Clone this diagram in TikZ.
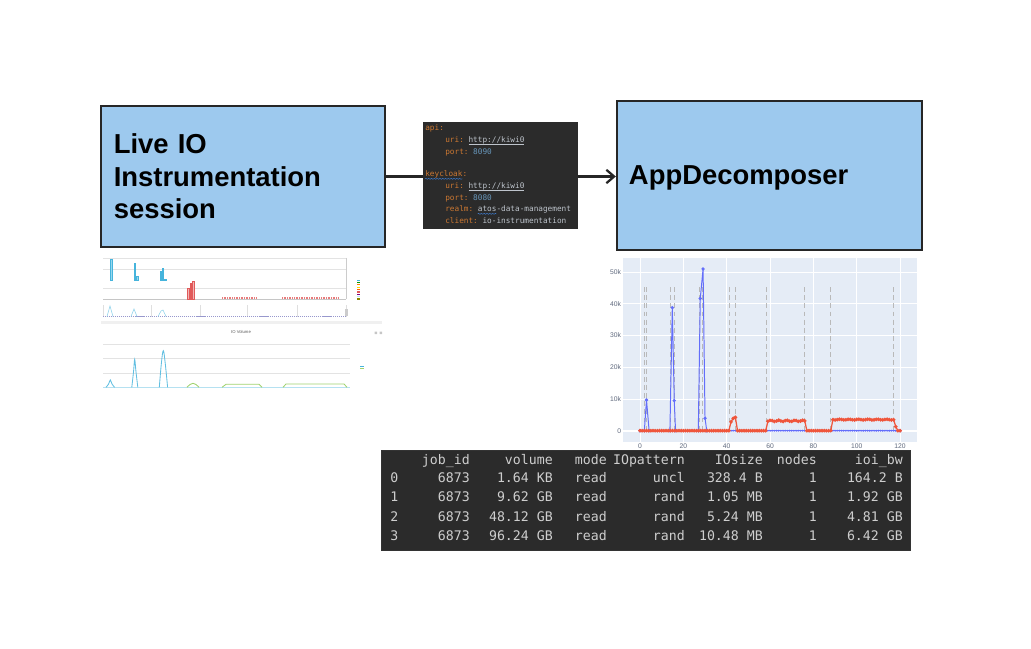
\documentclass[tikz,border=0pt]{standalone}
\usepackage{fontspec}
\setmainfont{Liberation Sans}
\setmonofont{DejaVu Sans Mono}
\usepackage{tikz}
\usetikzlibrary{positioning,arrows.meta,decorations.pathmorphing}
\definecolor{boxfill}{RGB}{157,201,238}
\definecolor{boxline}{RGB}{38,38,38}
\definecolor{codebg}{RGB}{43,43,43}
\definecolor{codekey}{RGB}{204,120,50}
\definecolor{codenum}{RGB}{104,151,187}
\definecolor{codetxt}{RGB}{190,196,204}
\definecolor{codewave}{RGB}{60,120,200}
\definecolor{tablebg}{RGB}{43,43,43}
\definecolor{tabtxt}{RGB}{206,206,206}
\definecolor{plotbg}{RGB}{229,236,246}
\definecolor{plotblue}{RGB}{99,110,250}
\definecolor{plotred}{RGB}{239,85,59}
\definecolor{axtxt}{RGB}{95,105,125}
\definecolor{shotcyan}{RGB}{70,180,220}
\definecolor{shotgreen}{RGB}{160,210,110}
\definecolor{shotred}{RGB}{225,90,90}
\newcommand\lnk[1]{\setbox0\hbox{#1}\rlap{\rule[-0.9pt]{\wd0}{0.25pt}}\box0}

\begin{document}
\begin{tikzpicture}[x=0.025cm, y=-0.025cm,
  block/.style={rectangle, draw=boxline, fill=boxfill, line width=1.6pt,
                font=\fontsize{19.5}{23}\bfseries\selectfont, align=left,
                inner xsep=0.32cm, inner ysep=0pt},
  flow/.style={-{Straight Barb[length=5.5pt,width=9.5pt]}, line width=1.6pt, boxline},
  code/.style={anchor=base west, inner sep=0pt, font=\fontsize{5.5}{6}\ttfamily\selectfont, text=codetxt},
  wave/.style={codewave, line width=0.35pt, decorate,
               decoration={snake, amplitude=0.35pt, segment length=2pt}},
  cell/.style={anchor=base east, inner sep=0pt, font=\fontsize{9.4}{11}\ttfamily\selectfont, text=tabtxt},
  tick/.style={inner sep=0pt, font=\fontsize{4.8}{5}\selectfont, text=axtxt},
  gridline/.style={white, line width=0.6pt},
  phase/.style={gray!55, line width=0.6pt, dash pattern=on 3.5pt off 2.3pt},
  shotgrid/.style={gray!22, line width=0.3pt},
  barblue/.style={fill=shotcyan!55, draw=shotcyan, line width=0.3pt},
  barred/.style={fill=shotred!45, draw=shotred, line width=0.3pt},
]
\useasboundingbox (0,0) rectangle (1031,649);

% boxes and the link between them
\node[block, text width=6.46cm, minimum height=3.525cm] (live) at (243,176.5)
    {Live IO\\Instrumentation\\session};
\node[block, text width=7.025cm, inner xsep=0.3cm, minimum height=3.725cm, text depth=0pt]
    (decomp) at (769.5,175.5) {AppDecomposer};
\draw[flow] (live.east) -- (live.east -| decomp.west);

% config snippet
\node[fill=codebg, minimum width=3.875cm, minimum height=2.675cm, inner sep=0pt] (conf) at (500.5,175.5) {};
\node[code] (apikey) at (425,131) {\textcolor{codekey}{api:}};
\node[code] (apiuri) at (445,143) {\textcolor{codekey}{uri:} \lnk{http://kiwi0}};
\node[code] (apiport) at (445,155) {\textcolor{codekey}{port:} \textcolor{codenum}{8090}};
\node[code] (kc) at (425,177) {\textcolor{codekey}{keycloak:}};
\node[code] (kcuri) at (445,189) {\textcolor{codekey}{uri:} \lnk{http://kiwi0}};
\node[code] (kcport) at (445,201) {\textcolor{codekey}{port:} \textcolor{codenum}{8080}};
\node[code] (kcrealm) at (445,212) {\textcolor{codekey}{realm:} atos-data-management};
\node[code] (kcclient) at (445,224) {\textcolor{codekey}{client:} io-instrumentation};
\draw[wave] ([yshift=-1.3pt]kc.base west) -- ++(37.4,0);
\draw[wave] ([xshift=0.817cm,yshift=-1.3pt]kcrealm.base west) -- ++(18.7,0);

% live session screenshot, top panel
\foreach \gy in {258,269,288}
  \draw[shotgrid] (103,\gy) -- (346,\gy);
\draw[gray!45, line width=0.3pt] (103,299) -- (346,299);
\foreach \bx/\by in {111/259, 134.7/263, 137.3/276, 160.6/271, 162.9/268, 165/279}
  \draw[barblue] (\bx-0.8,280) rectangle (\bx+0.8,\by);
\foreach \bx/\by in {188.5/288, 190.7/283, 192.9/281}
  \draw[barred] (\bx-0.9,299) rectangle (\bx+0.9,\by);
\draw[shotred!80, line width=1.4pt, dash pattern=on 0.7pt off 0.5pt] (222,298) -- (256,298);
\draw[shotred!80, line width=1.4pt, dash pattern=on 0.7pt off 0.5pt] (282,298) -- (339,298);
\draw[gray!40, line width=0.3pt] (346,258) -- (346,299);
\foreach \c [count=\k] in {shotcyan, green!60!black, orange, yellow!80!orange, orange!80!red,
                           shotred, violet, cyan!30, olive}
  \fill[\c] (356.5,277.2+2.35*\k) rectangle (359.5,278.4+2.35*\k);
% navigator
\foreach \nx in {103,151,200,247,297,346}
  \draw[gray!25, line width=0.3pt] (\nx,305) -- (\nx,317);
\draw[blue!35!gray!60, line width=0.5pt, dash pattern=on 0.8pt off 0.6pt] (103,316.5) -- (346,316.5);
\draw[shotcyan!60, line width=0.4pt] (107,316.5) -- (110,306) -- (113,316.5)
  (131,316.5) -- (134,309) -- (137,316.5) (158,316.5) -- (161,311) -- (163,310) -- (166,316.5);
\fill[gray!40] (345,309) rectangle (347.5,316);
\fill[gray!12] (101,321) rectangle (382,323.5);

% live session screenshot, bottom panel
\node[inner sep=0pt, font=\fontsize{3}{3}\selectfont, text=gray!70!black] (voltitle) at (241,332) {IO Volume};
\fill[gray!45] (374.5,331.5) rectangle (377,334) (379.5,331.5) rectangle (382,334);
\foreach \gy in {344,358.3,373.3}
  \draw[shotgrid] (103,\gy) -- (350,\gy);
\draw[gray!45, line width=0.3pt] (103,387.3) -- (350,387.3);
\draw[shotcyan!40, line width=0.5pt] (103,387) -- (350,387);
\draw[shotcyan!85, line width=0.6pt]
  plot[smooth, tension=0.6] coordinates {(106,387.3) (108.6,384) (110.3,380) (112,384) (114.6,387.3)}
  plot[smooth, tension=0.6] coordinates {(131.8,387.3) (133.6,371) (134.7,359.3) (135.9,371) (137.8,387.3)}
  plot[smooth, tension=0.6] coordinates {(159.3,387.3) (161.4,363) (163.3,350.7) (165.2,363) (167.6,387.3)};
\draw[shotgreen, line width=0.6pt]
  plot[smooth, tension=0.6] coordinates {(187,387.3) (190,384.5) (193,383.3) (196,384.5) (199,387.3)}
  (222,387.3) -- (226,384.3) -- (259,384.3) -- (262,387.3)
  (283,387.3) -- (286,384) -- (344,384) -- (347,387.3);
\draw[shotcyan, line width=0.6pt] (360,366) -- (364,366);
\draw[shotgreen, line width=0.6pt] (360,368.5) -- (364,368.5);

% decomposition plot
\begin{scope}[shift={(640,430.7)}, x=0.05417cm, y=0.07925cm,
  declare function={ioload(\x)=(\x>58.5)*(\x<76.5)*(3.1+0.2*sin(97*\x))
      +(\x>88.5)*(\x<117.5)*(3.5+0.12*sin(83*\x))
      +(abs(\x-42)<0.3)*2.8+(abs(\x-43)<0.3)*3.9+(abs(\x-44)<0.3)*4.2
      +(abs(\x-118)<0.3)*1.3;}]
  \fill[plotbg] (-7.8,-3.6) rectangle (127.8,54.5);
  \foreach \v in {10,20,...,50}
    \draw[gridline] (-7.8,\v) -- (127.8,\v);
  \foreach \t in {0,20,...,120}
    \draw[gridline] (\t,-3.6) -- (\t,54.5);
  \draw[white, line width=1.3pt] (-7.8,0) -- (127.8,0);
  \foreach \v/\lab in {0/0, 10/10k, 20/20k, 30/30k, 40/40k, 50/50k}
    \node[tick, anchor=east] (yl\v) at (-8.6,\v) {\lab};
  \foreach \t in {0,20,...,120}
    \node[tick] (xl\t) at (\t,-4.9) {\t};
  \foreach \d in {2,3.1,14.2,15.8,27.4,28.8,41.2,44,58.2,76,88,116.9}
    \draw[phase] (\d,45.3) -- (\d,0);
  \foreach \i in {0,...,120}
    \fill[plotblue] (\i,0) circle[radius=0.75pt];
  \draw[plotblue, line width=0.7pt] plot[mark=*, mark size=0.8pt, mark options={fill=plotblue}]
    coordinates {(0,0) (2,0) (3,9.7) (4.2,0) (13.8,0) (14.9,38.8) (15.8,9.5) (16.4,0)
                 (26.9,0) (27.8,41.7) (29.1,51) (30,3.9) (30.8,0) (120,0)};
  \draw[plotred, line width=0.9pt] plot[domain=0:120, samples=121, mark=*, mark size=0.8pt,
    mark options={fill=plotred}] (\x,{ioload(\x)});
\end{scope}

% result table
\node[fill=tablebg, draw=gray!40!black, line width=0.4pt, minimum width=13.225cm,
      minimum height=2.5cm, inner sep=0pt] (frame) at (645.5,500) {};
\foreach \cx/\lab [count=\k] in {470/job\_id, 553/volume, 607/mode, 685/IOpattern,
                                 763/IOsize, 817/nodes, 903/ioi\_bw}
  \node[cell] (head\k) at (\cx,464) {\lab};
\foreach \r/\ry/\vol/\pat/\sz/\bw in {0/482/1.64 KB/uncl/328.4 B/164.2 B,
                                      1/501.5/9.62 GB/rand/1.05 MB/1.92 GB,
                                      2/521/48.12 GB/rand/5.24 MB/4.81 GB,
                                      3/540.5/96.24 GB/rand/10.48 MB/6.42 GB}{
  \node[cell, anchor=base west] (idx\r) at (390,\ry) {\r};
  \node[cell] (job\r) at (470,\ry) {6873};
  \node[cell] (vol\r) at (553,\ry) {\vol};
  \node[cell] (mode\r) at (607,\ry) {read};
  \node[cell] (pat\r) at (685,\ry) {\pat};
  \node[cell] (size\r) at (763,\ry) {\sz};
  \node[cell] (nodes\r) at (817,\ry) {1};
  \node[cell] (bw\r) at (903,\ry) {\bw};
}
\end{tikzpicture}
\end{document}
